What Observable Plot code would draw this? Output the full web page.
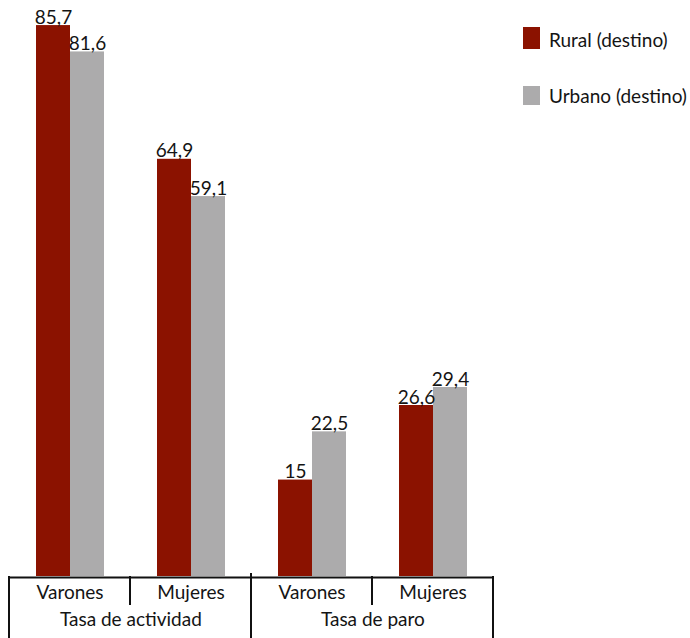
<!DOCTYPE html>
<html>
<head>
<meta charset="utf-8">
<script src="https://cdn.jsdelivr.net/npm/d3@7"></script>
<script src="https://cdn.jsdelivr.net/npm/@observablehq/plot@0.6"></script>
<style>
  body { margin: 0; background: #fff; }
  #wrap { position: relative; width: 690px; height: 638px; font-family: Lato, sans-serif; }
  .legend-item { position: absolute; font-size: 19px; line-height: 22px; color: #141414; white-space: nowrap; }
  .swatch { position: absolute; width: 17px; }
</style>
</head>
<body>
<div id="wrap"></div>
<script>
// Indicators and sex categories along the bottom axis
const measures = ["Tasa de actividad", "Tasa de actividad", "Tasa de paro", "Tasa de paro"];
const sexes = ["Varones", "Mujeres", "Varones", "Mujeres"];
// Series (destination area)
const series = ["Rural (destino)", "Urbano (destino)"];
const rural = [85.7, 64.9, 15, 26.6];
const urbano = [81.6, 59.1, 22.5, 29.4];
const colors = ["#8b1200", "#acabac"];

const groups = sexes.map((s, i) => ({key: measures[i] + " · " + s, measure: measures[i], sex: s}));
const data = groups.flatMap((g, i) => [
  {...g, series: series[0], value: rural[i]},
  {...g, series: series[1], value: urbano[i]}
]);

const width = 690, height = 638;
const margin = {top: 0, right: 196, bottom: 62, left: 7};
const band = (width - margin.left - margin.right) / groups.length;
const fmt = v => String(v).replace(".", ",");
const ink = "#141414";

const chart = Plot.plot({
  width, height,
  marginTop: margin.top, marginRight: margin.right,
  marginBottom: margin.bottom, marginLeft: margin.left,
  style: {fontFamily: "Lato, sans-serif", fontSize: "19px", color: ink, background: "#fff", overflow: "visible"},
  fx: {domain: groups.map(g => g.key), padding: 0, axis: null},
  x: {domain: series, paddingInner: 0, paddingOuter: 0.732, axis: null},
  y: {domain: [0, 89.6], axis: null},
  color: {domain: series, range: colors},
  marks: [
    Plot.barY(data, {fx: "key", x: "series", y: "value", fill: "series"}),
    Plot.text(data, {
      fx: "key", x: "series", y: "value", text: d => fmt(d.value),
      lineAnchor: "bottom", dy: -2, fill: ink
    }),
    Plot.ruleY([0], {stroke: "#111", strokeWidth: 2, dy: 1}),
    Plot.text(groups, {fx: "key", text: "sex", frameAnchor: "bottom", dy: 22, fill: ink}),
    Plot.text(groups.filter(g => g.sex === "Varones"), {
      fx: "key", text: "measure", frameAnchor: "bottom", dx: band / 2, dy: 49, fill: ink
    })
  ]
});

// Bracket lines separating categories below the baseline
const fxScale = chart.scale("fx");
const base = height - margin.bottom;
const g = d3.select(chart).append("g").attr("stroke", "#111").attr("stroke-width", 2).attr("fill", "none");
const keys = groups.map(d => d.key);
const lastEdge = fxScale.apply(keys[keys.length - 1]) + fxScale.bandwidth;
groups.forEach(d => {
  const xPos = Math.round(fxScale.apply(d.key));
  if (d.sex === "Varones") {
    g.append("line").attr("x1", xPos).attr("x2", xPos).attr("y1", d === groups[0] ? base : base - 3).attr("y2", height);
  } else {
    g.append("line").attr("x1", xPos).attr("x2", xPos).attr("y1", base).attr("y2", base + 29);
  }
});
g.append("line").attr("x1", Math.round(lastEdge)).attr("x2", Math.round(lastEdge)).attr("y1", base).attr("y2", height);

const wrap = document.getElementById("wrap");
wrap.appendChild(chart);

// Legend
const legendPos = [{sy: 27, sh: 22, ty: 29}, {sy: 86, sh: 19, ty: 85}];
series.forEach((s, i) => {
  const sw = document.createElement("div");
  sw.className = "swatch";
  sw.style.left = "523px";
  sw.style.top = legendPos[i].sy + "px";
  sw.style.height = legendPos[i].sh + "px";
  sw.style.background = colors[i];
  wrap.appendChild(sw);
  const t = document.createElement("div");
  t.className = "legend-item";
  t.style.left = "549px";
  t.style.top = legendPos[i].ty + "px";
  t.textContent = s;
  wrap.appendChild(t);
});
</script>
</body>
</html>
